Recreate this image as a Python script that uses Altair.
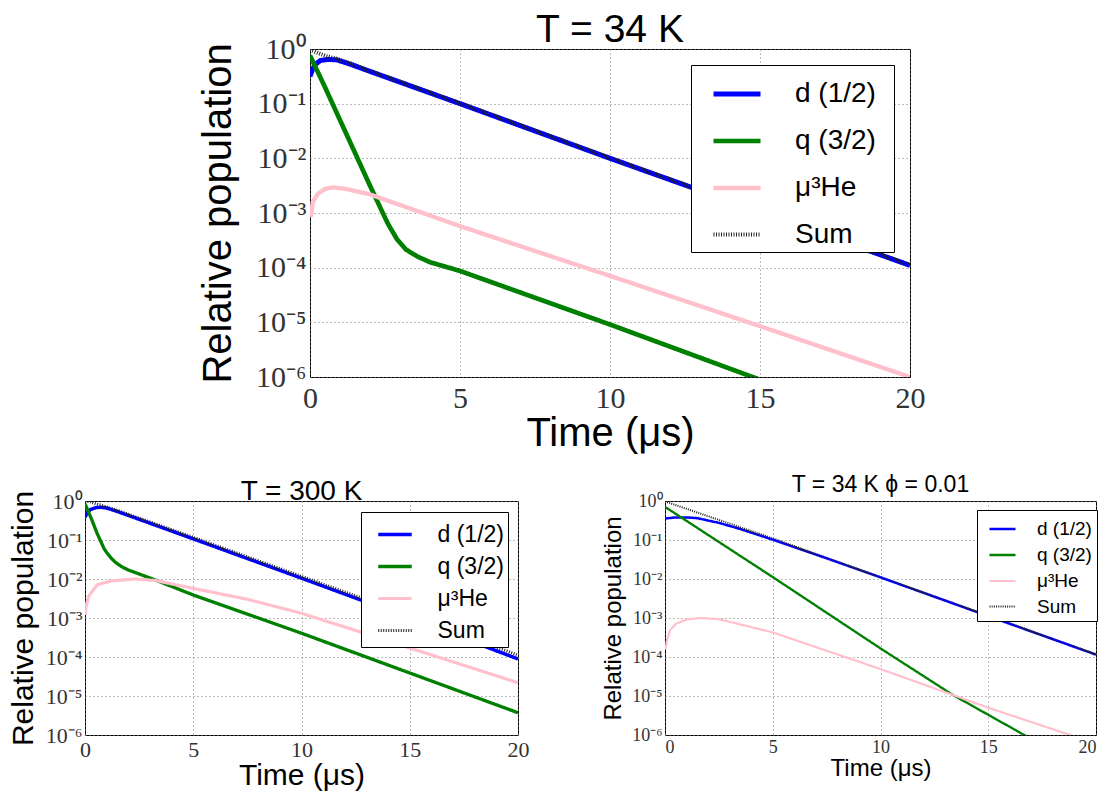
import altair as alt
import pandas as pd

SERIES = ["d (1/2)", "q (3/2)", "μ³He", "Sum"]
COLORS = ["#0000ff", "#008000", "#ffc0cb", "#222222"]
X_TICKS = [0, 5, 10, 15, 20]
Y_TICKS = [1e-6, 1e-5, 1e-4, 1e-3, 1e-2, 1e-1, 1]

# ---------- T = 34 K (top) ----------
top_d_t = [0, 0.1, 0.2, 0.35, 0.6, 0.9, 1.3, 2, 5, 10, 15, 20]
top_d_v = [0.316, 0.447, 0.537, 0.617, 0.646, 0.631, 0.537, 0.389, 0.1, 0.01, 1.05e-3, 1.10e-4]
top_q_t = [0, 0.5, 1, 1.5, 2, 2.3, 2.6, 2.9, 3.2, 3.6, 4, 5, 7.5, 10, 15]
top_q_v = [0.759, 0.2, 0.0501, 0.0126, 3.16e-3, 1.41e-3, 6.31e-4, 3.31e-4, 2.14e-4,
           1.58e-4, 1.26e-4, 8.71e-5, 2.82e-5, 9.12e-6, 8.91e-7]
top_h_t = [0.03, 0.09, 0.26, 0.5, 0.75, 1.2, 2, 5, 10, 15, 20]
top_h_v = [8.51e-4, 1.58e-3, 2.24e-3, 2.75e-3, 2.95e-3, 2.75e-3, 2.19e-3, 5.75e-4, 7.08e-5, 8.51e-6, 1.0e-6]
top_s_t = [0, 0.3, 0.6, 0.9, 1.3, 2, 5, 10, 15, 20]
top_s_v = [0.977, 0.832, 0.724, 0.661, 0.562, 0.398, 0.102, 0.0102, 1.07e-3, 1.12e-4]

# ---------- T = 300 K (bottom left) ----------
bl_d_t = [0, 0.1, 0.25, 0.5, 0.75, 1, 1.5, 2, 5, 10, 15, 20]
bl_d_v = [0.380, 0.501, 0.603, 0.676, 0.692, 0.661, 0.537, 0.427, 0.107, 0.0105, 1.0e-3, 8.91e-5]
bl_q_t = [0, 0.32, 0.56, 0.88, 1.0, 1.2, 1.4, 1.68, 2.0, 2.3, 3.27, 5, 10, 15, 20]
bl_q_v = [0.851, 0.324, 0.148, 0.0603, 0.0479, 0.0347, 0.0269, 0.0209, 0.0170, 0.0148,
          9.33e-3, 3.89e-3, 4.07e-4, 3.89e-5, 3.72e-6]
bl_h_t = [0.02, 0.05, 0.16, 0.56, 1.2, 2.3, 3.27, 5, 7.5, 10, 12.5, 15, 20]
bl_h_v = [1.2e-3, 2.0e-3, 3.55e-3, 7.08e-3, 8.91e-3, 0.01, 9.12e-3, 5.75e-3, 3.02e-3,
          1.32e-3, 4.79e-4, 1.70e-4, 2.19e-5]
bl_s_t = [0, 0.25, 0.5, 1, 1.5, 2, 5, 10, 15, 20]
bl_s_v = [0.98, 0.955, 0.851, 0.708, 0.575, 0.457, 0.117, 0.0117, 1.17e-3, 1.12e-4]

# ---------- T = 34 K, phi = 0.01 (bottom right) ----------
br_d_t = [0, 0.5, 1, 1.5, 2.5, 3.5, 5, 7.5, 10, 15, 20]
br_d_v = [0.355, 0.380, 0.380, 0.363, 0.275, 0.191, 0.102, 0.0339, 0.011, 1.12e-3, 1.15e-4]
br_q_t = [0, 5, 10, 13.35, 16.67, 18]
br_q_v = [0.708, 0.0112, 1.66e-4, 1.07e-5, 1.0e-6, 3.98e-7]
br_h_t = [0.02, 0.1, 0.25, 0.5, 1, 1.6, 2.5, 5, 10, 13.35, 15, 18.8, 20]
br_h_v = [1.58e-4, 2.82e-4, 5.01e-4, 7.08e-4, 9.12e-4, 1.0e-3, 9.33e-4, 4.27e-4, 4.9e-5,
          1.07e-5, 5.01e-6, 1.0e-6, 5.62e-7]
br_s_t = [0, 1, 2, 3, 4, 5, 7.5, 10, 15, 20]
br_s_v = [0.977, 0.631, 0.407, 0.263, 0.170, 0.110, 0.0347, 0.0112, 1.15e-3, 1.17e-4]


def make_df(pairs):
    rows = []
    for name, (ts, vs) in zip(SERIES, pairs):
        for t, v in zip(ts, vs):
            rows.append({"t": t, "p": v, "series": name})
    return pd.DataFrame(rows)


YLAB = ("'10' + (datum.value < 0.5 ? '⁻' : '') + "
        "['⁰','¹','²','³','⁴','⁵','⁶'][round(-log(datum.value)/LN10)]")


def panel(df, s):
    legend = alt.Legend(
        title="\u00a0", titleOrient="right", titleFontSize=1, titlePadding=s["rpad"],
        orient="none", legendX=s["lx"], legendY=s["ly"],
        symbolType="stroke", symbolSize=s["ssize"], fillColor="white",
        strokeColor="black", padding=s["lpad"], cornerRadius=0,
        labelFont="Liberation Sans", labelFontSize=s["lfs"], labelColor="black",
        labelOffset=s["loff"], rowPadding=s["rowpad"], symbolOffset=s["soff"],
        labelLimit=400,
    )
    enc = dict(
        x=alt.X("t:Q", scale=alt.Scale(domain=[0, 20], nice=False, zero=False),
                axis=alt.Axis(values=X_TICKS, grid=True, gridDash=[1, 3], gridColor="#777",
                              domain=False, ticks=False, labelFlush=s["flush"],
                              labelFont="Liberation Serif", labelFontSize=s["tick"],
                              labelColor="#333", labelPadding=s["xlp"],
                              title="Time (μs)", titleFont="Liberation Sans",
                              titleFontSize=s["xt"], titleFontWeight="normal",
                              titleColor="black", titlePadding=s["xtp"])),
        y=alt.Y("p:Q", scale=alt.Scale(type="log", domain=[1e-6, 1], nice=False),
                axis=alt.Axis(values=Y_TICKS, grid=True, gridDash=[1, 3], gridColor="#777",
                              domain=False, ticks=False, labelFlush=False, labelExpr=YLAB,
                              labelFont="Liberation Serif", labelFontSize=s["tick"],
                              labelColor="#333", labelPadding=s["ylp"],
                              title="Relative population", titleFont="Liberation Sans",
                              titleFontSize=s["yt"], titleFontWeight="normal",
                              titleColor="black", titlePadding=s["ytp"])),
        color=alt.Color("series:N", scale=alt.Scale(domain=SERIES, range=COLORS), legend=legend),
        strokeDash=alt.StrokeDash("series:N", scale=alt.Scale(
            domain=SERIES, range=[[1, 0], [1, 0], [1, 0], s["dash"]]), legend=legend),
        strokeWidth=alt.StrokeWidth("series:N", scale=alt.Scale(
            domain=SERIES, range=s["widths"]), legend=legend),
    )
    main = alt.Chart(df[df.series != "Sum"]).mark_line(clip=True).encode(**enc)
    tot = alt.Chart(df[df.series == "Sum"]).mark_line(clip=True).encode(**enc)
    return alt.layer(main, tot).properties(
        width=s["w"], height=s["h"],
        title=alt.TitleParams(s["title"], font="Liberation Sans", fontSize=s["tfs"],
                              fontWeight="normal", color="black", anchor="middle",
                              offset=s["toff"]),
    )


top_df = make_df([(top_d_t, top_d_v), (top_q_t, top_q_v), (top_h_t, top_h_v), (top_s_t, top_s_v)])
bl_df = make_df([(bl_d_t, bl_d_v), (bl_q_t, bl_q_v), (bl_h_t, bl_h_v), (bl_s_t, bl_s_v)])
br_df = make_df([(br_d_t, br_d_v), (br_q_t, br_q_v), (br_h_t, br_h_v), (br_s_t, br_s_v)])

top = panel(top_df, dict(
    w=600, h=328, title="T = 34 K", tfs=39, toff=-16, tick=30, xlp=6, xt=40, xtp=0,
    ylp=4, yt=40, ytp=17, widths=[5, 4, 5, 3], dash=[1, 1.5], flush=False,
    lx=381, ly=16, ssize=2209, lpad=3, lfs=28, loff=32, rowpad=7, soff=17, rpad=15))
bl = panel(bl_df, dict(
    w=433, h=234, title="T = 300 K", tfs=28, toff=-16, tick=22, xlp=4, xt=30, xtp=0,
    ylp=3, yt=30, ytp=6.5, widths=[3.5, 3, 3, 2.5], dash=[1, 1.5], flush=False,
    lx=276, ly=11, ssize=1122, lpad=4, lfs=23, loff=24, rowpad=1, soff=11.5, rpad=0))
br = panel(br_df, dict(
    w=431, h=234, title="T = 34 K ϕ = 0.01", tfs=23, toff=-5, tick=18, xlp=3, xt=24, xtp=0,
    ylp=3, yt=24, ytp=6, widths=[2.5, 2, 2.5, 1.8], dash=[1, 1.2], flush=True,
    lx=312, ly=9, ssize=676, lpad=4.5, lfs=19, loff=20, rowpad=1, soff=6.5, rpad=0))

spacer = alt.Chart(pd.DataFrame({"a": [0]})).mark_point(opacity=0).properties(
    width=225, height=328, view=alt.ViewBackground(strokeOpacity=0))

RES = dict(color="independent", strokeDash="independent", strokeWidth="independent")

row1 = alt.hconcat(spacer, top, spacing=0, bounds="flush").resolve_scale(**RES).resolve_legend(**RES)
row2 = alt.hconcat(bl, br, spacing=147, bounds="flush").resolve_scale(**RES).resolve_legend(**RES)

chart = alt.vconcat(row1, row2, spacing=19).resolve_scale(**RES).resolve_legend(
    **RES).properties(padding={"left": 0, "top": 2, "right": 0, "bottom": 0}).configure_view(
    stroke="black", strokeWidth=1)

chart.save("out.html", embed_options={"renderer": "svg", "actions": False})
